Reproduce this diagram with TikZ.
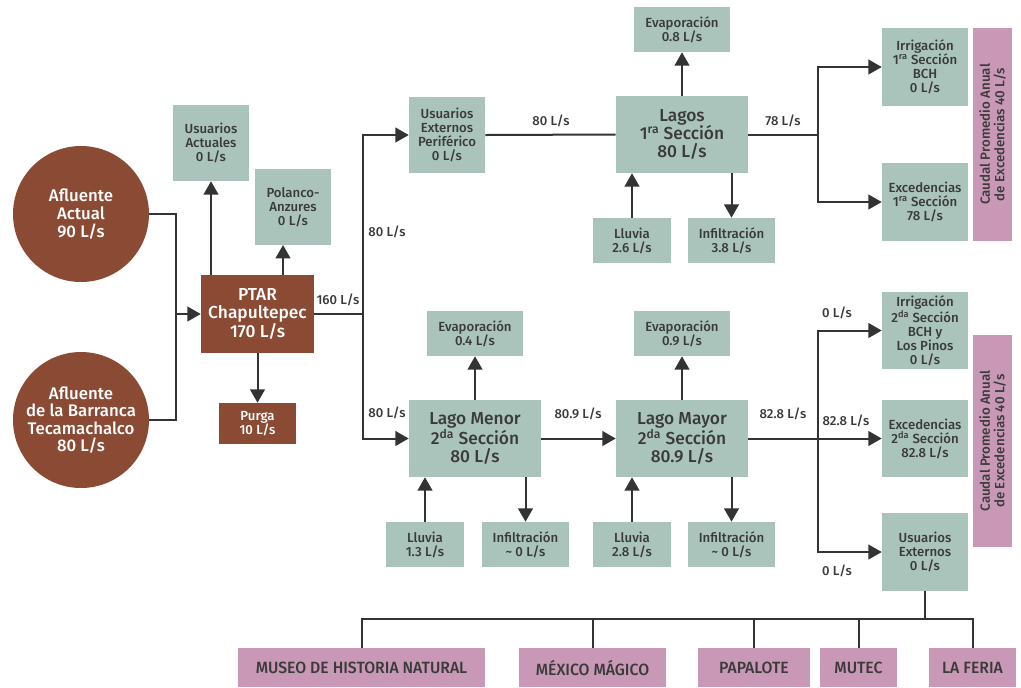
\documentclass[tikz,border=0pt]{standalone}
\usepackage{fontspec}
\setmainfont{Fira Sans}[UprightFont={* Medium},BoldFont={* SemiBold}]
\newfontfamily\condfont{Fira Sans}[UprightFont={* Medium},FakeStretch=0.97]
\usetikzlibrary{arrows.meta}
\definecolor{brn}{HTML}{8A4A33}
\definecolor{sage}{HTML}{AAC4BC}
\definecolor{pnk}{HTML}{C898B6}
\definecolor{txt}{HTML}{3A3A3A}
\definecolor{lin}{HTML}{333333}
\begin{document}
\begin{tikzpicture}[x=0.75pt,y=-0.75pt,
  base/.style={inner sep=0pt, align=center, text=txt},
  sz/.style 2 args={minimum width=#1*0.75pt, minimum height=#2*0.75pt},
  gbox/.style={base, fill=sage, font=\fontsize{9.9}{10.5}\selectfont},
  gbig/.style={base, fill=sage, font=\fontsize{13}{13.5}\selectfont},
  bbig/.style={base, fill=brn, text=white, font=\fontsize{13}{13}\selectfont},
  bsmall/.style={base, fill=brn, text=white, font=\fontsize{9.9}{10.5}\selectfont},
  circ/.style={circle, fill=brn, text=white, minimum size=102pt, inner sep=0pt, align=center, font=\fontsize{12.6}{13.2}\selectfont},
  pbox/.style={base, fill=pnk, font=\condfont\fontsize{12.2}{13}\selectfont},
  pbar/.style={base, fill=pnk, rotate=90, font=\fontsize{10}{11}\selectfont},
  lbl/.style={inner sep=0pt, text=txt, font=\fontsize{9.8}{10.5}\selectfont},
  conn/.style={draw=lin, line width=1.5pt},
  arr/.style={conn, -{Triangle[length=10pt,width=11pt]}}
]
\useasboundingbox (0,0) rectangle (1021,687);

% left side
\node[circ] (c1) at (81,214) {Afluente\\Actual\\90 L/s};
\node[circ] (c2) at (81,420) {Afluente\\de la Barranca\\Tecamachalco\\80 L/s};
\node[bbig, sz={113}{78}] (ptar) at (257.5,314) {PTAR\\Chapultepec\\170 L/s};
\node[gbox, sz={76}{76}] (ua) at (211,143) {Usuarios\\Actuales\\0 L/s};
\node[gbox, sz={76}{76}] (pol) at (293,207) {Polanco-\\Anzures\\0 L/s};
\node[bsmall, sz={77}{41}] (purga) at (257.5,423.5) {Purga\\10 L/s};

% upper chain
\node[gbox, sz={76}{76}] (uep) at (447,135) {Usuarios\\Externos\\Periférico\\0 L/s};
\node[gbig, sz={132}{77}] (lagos1) at (682,134.5) {Lagos\\1\textsuperscript{ra} Sección\\80 L/s};
\node[gbox, sz={96}{45}] (ev1) at (682,29.5) {Evaporación\\0.8 L/s};
\node[gbox, sz={78}{45}] (ll1) at (632,240.5) {Lluvia\\2.6 L/s};
\node[gbox, sz={87}{45}] (inf1) at (731.5,240.5) {Infiltración\\3.8 L/s};
\node[gbox, sz={86}{78}] (irr1) at (925,67) {Irrigación\\1\textsuperscript{ra} Sección\\BCH\\0 L/s};
\node[gbox, sz={86}{78}] (exc1) at (925,202) {Excedencias\\1\textsuperscript{ra} Sección\\78 L/s};
\node[pbar, sz={213}{39}] (bar1) at (992.5,134.5) {Caudal Promedio Anual\\de Excedencias 40 L/s};

% lower chain
\node[gbig, sz={132}{77}] (lm) at (475,438.5) {Lago Menor\\2\textsuperscript{da} Sección\\80 L/s};
\node[gbig, sz={132}{77}] (lM) at (682,438.5) {Lago Mayor\\2\textsuperscript{da} Sección\\80.9 L/s};
\node[gbox, sz={96}{45}] (ev2) at (475,333.5) {Evaporación\\0.4 L/s};
\node[gbox, sz={96}{45}] (ev3) at (682,333.5) {Evaporación\\0.9 L/s};
\node[gbox, sz={78}{45}] (ll2) at (425,544.5) {Lluvia\\1.3 L/s};
\node[gbox, sz={87}{45}] (inf2) at (525.5,544.5) {Infiltración\\\textasciitilde{} 0 L/s};
\node[gbox, sz={78}{45}] (ll3) at (632,544.5) {Lluvia\\2.8 L/s};
\node[gbox, sz={87}{45}] (inf3) at (731.5,544.5) {Infiltración\\\textasciitilde{} 0 L/s};
\node[gbox, sz={86}{77}] (irr2) at (925,330.5) {Irrigación\\2\textsuperscript{da} Sección\\BCH y\\Los Pinos\\0 L/s};
\node[gbox, sz={86}{77}] (exc2) at (925,438.5) {Excedencias\\2\textsuperscript{da} Sección\\82.8 L/s};
\node[gbox, sz={86}{78}] (ue) at (925,552) {Usuarios\\Externos\\0 L/s};
\node[pbar, sz={212}{39}] (bar2) at (992.5,441) {Caudal Promedio Anual\\de Excedencias 40 L/s};

% bottom row
\node[pbox, sz={247}{39}] (museo) at (361.5,667.5) {MUSEO DE HISTORIA NATURAL};
\node[pbox, sz={147}{39}] (mexico) at (592.5,667.5) {MÉXICO MÁGICO};
\node[pbox, sz={112}{39}] (papalote) at (754,667.5) {PAPALOTE};
\node[pbox, sz={77}{39}] (mutec) at (858.5,667.5) {MUTEC};
\node[pbox, sz={87}{39}] (feria) at (972.5,667.5) {LA FERIA};

% junctions
\coordinate (j1) at (176,314);
\coordinate (s1) at (363,314);
\coordinate (s2) at (818,134.5);
\coordinate (s3) at (818,438.5);
\coordinate (polin) at (283,245);
\coordinate (bus) at (0,619);

% connectors left
\draw[conn] (c1.east) -| (j1);
\draw[conn] (c2.east) -| (j1);
\draw[arr] (j1) -- (ptar.west);
\draw[arr] (ptar.north -| ua.south) -- (ua.south);
\draw[arr] (ptar.north -| polin) -- (polin);
\draw[arr] (ptar.south) -- (purga.north);
\draw[conn] (ptar.east) -- (s1);
\draw[arr] (s1) |- (uep.west);
\draw[arr] (s1) |- (lm.west);

% upper chain
\draw[conn] (uep.east) -- (lagos1.west);
\draw[arr] (lagos1.north) -- (ev1.south);
\draw[arr] (ll1.north) -- (ll1.north |- lagos1.south);
\draw[arr] (inf1.north |- lagos1.south) -- (inf1.north);
\draw[conn] (lagos1.east) -- (s2);
\draw[arr] (s2) |- (irr1.west);
\draw[arr] (s2) |- (exc1.west);

% lower chain
\draw[arr] (lm.north) -- (ev2.south);
\draw[arr] (ll2.north) -- (ll2.north |- lm.south);
\draw[arr] (inf2.north |- lm.south) -- (inf2.north);
\draw[arr] (lm.east) -- (lM.west);
\draw[arr] (lM.north) -- (ev3.south);
\draw[arr] (ll3.north) -- (ll3.north |- lM.south);
\draw[arr] (inf3.north |- lM.south) -- (inf3.north);
\draw[conn] (lM.east) -- (s3);
\draw[arr] (s3) |- (irr2.west);
\draw[arr] (s3) -- (exc2.west);
\draw[arr] (s3) |- (ue.west);

% bottom bus
\draw[conn] (ue.south) -- (ue.south |- bus);
\draw[conn] (museo.north) |- (feria.north |- bus) -- (feria.north);
\draw[conn] (mexico.north) -- (mexico.north |- bus);
\draw[conn] (papalote.north) -- (papalote.north |- bus);
\draw[conn] (mutec.north) -- (mutec.north |- bus);

% labels
\node[lbl] (l160) at (338,300) {160 L/s};
\node[lbl] (l80a) at (387,232) {80 L/s};
\node[lbl] (l80b) at (387,413) {80 L/s};
\node[lbl] (l80c) at (551,121) {80 L/s};
\node[lbl] (l78) at (783,121) {78 L/s};
\node[lbl] (l809) at (578,414) {80.9 L/s};
\node[lbl] (l828a) at (783,414) {82.8 L/s};
\node[lbl] (l0a) at (837,313) {0 L/s};
\node[lbl] (l828b) at (846,421) {82.8 L/s};
\node[lbl] (l0b) at (837,571) {0 L/s};
\end{tikzpicture}
\end{document}
